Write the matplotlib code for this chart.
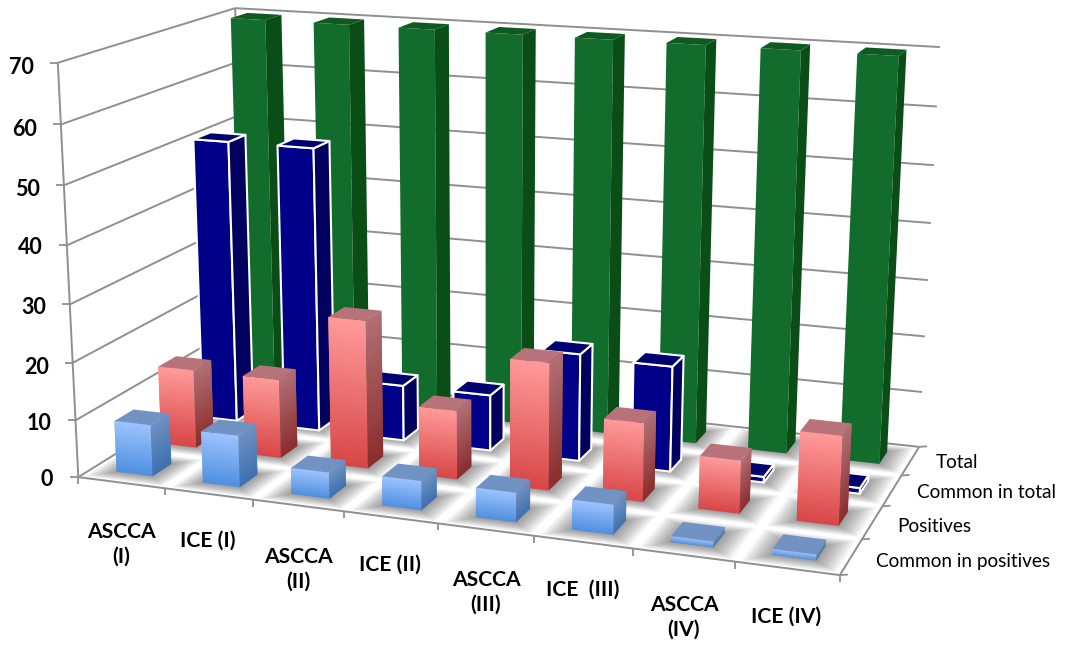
import numpy as np
import matplotlib
matplotlib.use('Agg')
from matplotlib import pyplot as plt

categories = ['ASCCA\n(I)', 'ICE (I)', 'ASCCA\n(II)', 'ICE (II)', 'ASCCA\n(III)', 'ICE  (III)', 'ASCCA\n(IV)', 'ICE (IV)']
series_names = ['Common in positives', 'Positives', 'Common in total', 'Total']
common_pos = [9, 9, 4.5, 5, 5, 5, 1, 1]
positives = [14, 14, 26, 12, 22, 13.5, 9, 15]
common_total = [51, 51, 10, 10, 19, 18.5, 1, 1]
total = [70, 70, 70, 70, 70, 70, 70, 70]
zticks = [0, 10, 20, 30, 40, 50, 60, 70]

# (front top, front bottom, side top, side bottom, top face, edge)
styles = [
    ('#9cc4ff', '#4f8fdf', '#6f90c0', '#3c70b0', '#7093c4', None),
    ('#ff9a9a', '#d84646', '#b07074', '#8a2c2c', '#b8737a', None),
    ('#000088', '#000088', '#00005f', '#00005f', '#000070', 'white'),
    ('#126c2b', '#126c2b', '#0a4d17', '#0a4d17', '#0e5a20', None),
]
data = [common_pos, positives, common_total, total]
bar_w = 0.42
bar_d = 0.42

# calibration of the 3D box: (cat, series, value) -> picture pixel
box3d = [(0, 0, 0), (8, 0, 0), (8, 4, 0), (0, 4, 0), (0, 0, 70), (0, 4, 70), (8, 4, 70)]
box2d = [(78, 477), (840, 575), (919, 447), (246, 373), (58, 63), (235, 8), (940, 47)]
A = []
for (X, Y, Z), (u, v) in zip(box3d, box2d):
    A.append([X, Y, Z, 1, 0, 0, 0, 0, -u*X, -u*Y, -u*Z, -u])
    A.append([0, 0, 0, 0, X, Y, Z, 1, -v*X, -v*Y, -v*Z, -v])
P = np.linalg.svd(np.array(A, dtype=float))[2][-1].reshape(3, 4)


def proj(x, y, z):
    h = P @ np.array([x, y, z, 1.0])
    return h[0]/h[2], h[1]/h[2]


def hexrgb(c):
    return np.array(matplotlib.colors.to_rgb(c))


fig = plt.figure(figsize=(10.78, 6.45), dpi=100)
ax = fig.add_axes([0, 0, 1, 1])
ax.set_xlim(0, 1078)
ax.set_ylim(645, 0)
ax.axis('off')

grey = '#8f8f8f'


def line(a, b, z=1):
    p, q = proj(*a), proj(*b)
    ax.plot([p[0], q[0]], [p[1], q[1]], color=grey, lw=1.4, zorder=z, solid_capstyle='butt')


def tick(a, dx, dy):
    p = proj(*a)
    ax.plot([p[0], p[0] + dx], [p[1], p[1] + dy], color=grey, lw=1.3, zorder=1, solid_capstyle='butt')


# walls and floor
for v in zticks:
    line((0, 0, v), (0, 4, v))
    line((0, 4, v), (8, 4, v))
    tick((0, 0, v), -8, 0)
line((0, 0, 0), (0, 0, 70))
line((0, 4, 0), (0, 4, 70))
line((0, 0, 0), (8, 0, 0))
line((8, 0, 0), (8, 4, 0))
for i in range(9):
    tick((i, 0, 0), 0, 7)
for j in range(5):
    tick((8, j, 0), 8, -0.5)

# soft shadows on the floor
for j in range(3, -1, -1):
    for i in range(8):
        x0 = i + (1 - bar_w)/2
        y0 = j + (1 - bar_d)/2
        for g in np.linspace(0.24, 0.02, 10):
            pts = [proj(x0 - g, y0 - g, 0), proj(x0 + bar_w + g, y0 - g, 0),
                   proj(x0 + bar_w + g, y0 + bar_d + g, 0), proj(x0 - g, y0 + bar_d + g, 0)]
            ax.fill(*zip(*pts), color='black', alpha=0.045, lw=0, zorder=2)


def face(pts, color, edge=None, z=3):
    xs, ys = zip(*[proj(*p) for p in pts])
    if edge:
        ax.fill(xs, ys, facecolor=color, edgecolor=edge, lw=1.5, zorder=z, joinstyle='round')
    else:
        ax.fill(xs, ys, facecolor=color, edgecolor='none', zorder=z)


# back row first, left to right inside a row
zo = 3
for j in range(3, -1, -1):
    front_t, front_b, side_t, side_b, top_c, edge = styles[j]
    for i in range(8):
        h = data[j][i]
        x0 = i + (1 - bar_w)/2
        x1 = x0 + bar_w
        y0 = j + (1 - bar_d)/2
        y1 = y0 + bar_d
        n = 40 if front_t != front_b else 1
        # slices overlap by one step so that no seam shows between them
        for k in range(n):
            z0 = h*k/n
            z1 = h*min(k + 2, n)/n
            f = (k + 0.5)/n
            face([(x0, y0, z0), (x1, y0, z0), (x1, y0, z1), (x0, y0, z1)],
                 tuple(hexrgb(front_b)*(1 - f) + hexrgb(front_t)*f), edge, zo)
            face([(x1, y0, z0), (x1, y1, z0), (x1, y1, z1), (x1, y0, z1)],
                 tuple(hexrgb(side_b)*(1 - f) + hexrgb(side_t)*f), edge, zo)
        face([(x0, y0, h), (x1, y0, h), (x1, y1, h), (x0, y1, h)], top_c, edge, zo)
        zo += 1

# text
font = 'Lato'
zlab_xy = [(53, 480), (51, 424), (49, 367), (46, 307), (43, 247), (40, 190), (37, 130), (34, 68)]
for v, (xx, yy) in zip(zticks, zlab_xy):
    ax.text(xx, yy, str(v), ha='right', va='center', fontsize=15.5, fontweight='bold', family=font, color='black')
cat_xy = [(121, 544), (208, 541), (298, 569), (390, 565), (486, 592), (583, 590), (684, 617), (786, 617)]
for c, (xx, yy) in zip(categories, cat_xy):
    ax.text(xx, yy, c, ha='center', va='center', fontsize=15.2, fontweight='bold', family=font, color='black',
            linespacing=1.3)
ser_xy = [(876, 561), (897, 526), (917, 493), (936, 463)]
for s, (xx, yy) in zip(series_names, ser_xy):
    ax.text(xx, yy, s, ha='left', va='center', fontsize=13.7, family=font, color='black')

plt.savefig('out.png', dpi=100)
